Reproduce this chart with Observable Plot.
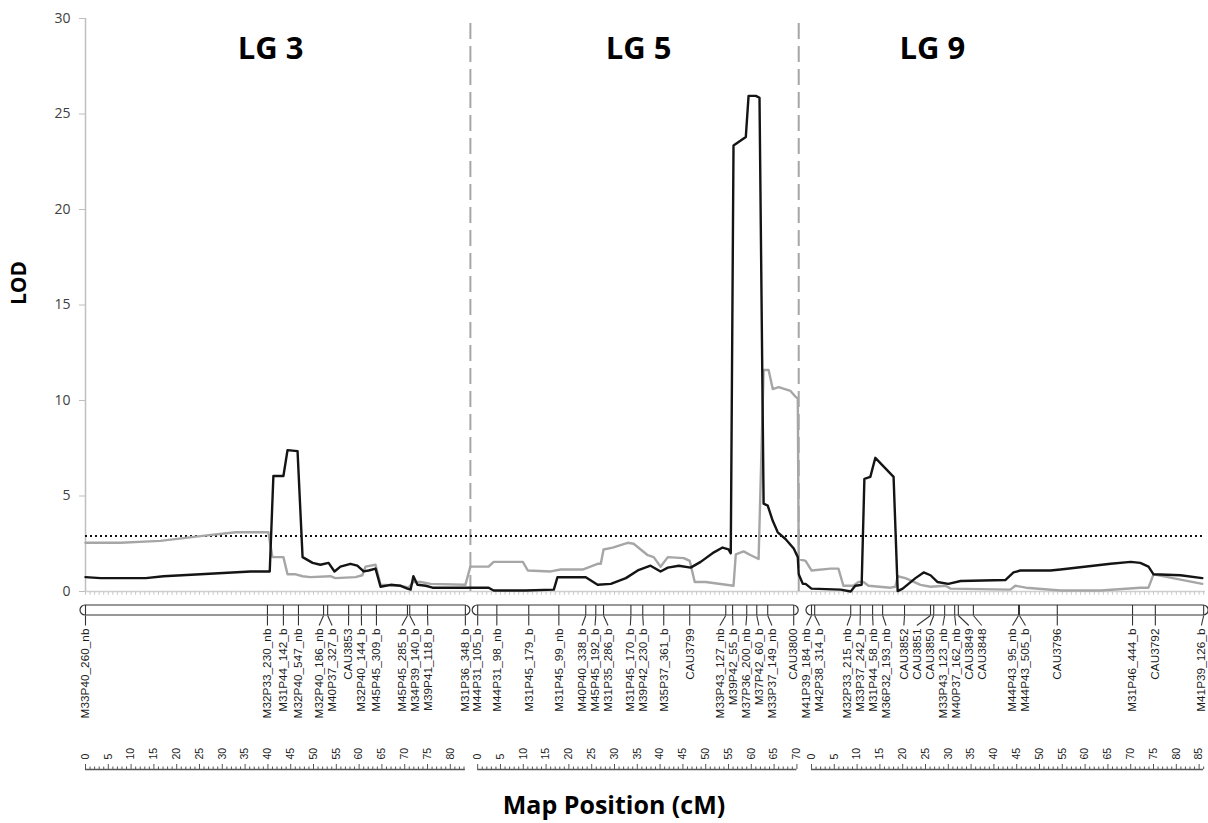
<!DOCTYPE html>
<html><head><meta charset="utf-8">
<script src="https://cdn.jsdelivr.net/npm/d3@7"></script>
<script src="https://cdn.jsdelivr.net/npm/@observablehq/plot@0.6"></script>
<style>
body{margin:0;background:#fff;}
#chart svg{display:block;}
#title{width:1228px;text-align:center;font:bold 25px 'Open Sans',sans-serif;color:#000;height:33px;line-height:28px;}
</style></head><body><div id="chart"></div><div id="title">Map Position (cM)</div>
<script>
// ---------------- DATA ----------------
const groupNames = ["LG 3", "LG 5", "LG 9"];
const groupLengthCM = [83.3, 69.3, 86.0];
const lodTicks = [0, 5, 10, 15, 20, 25, 30];
const lodThreshold = 2.9;

const lg3MarkerNames = ["M33P40_260_nb","M32P33_230_nb","M31P44_142_b","M32P40_547_nb","M32P40_186_nb","M40P37_327_b","CAU3853","M32P40_144_b","M45P45_309_b","M45P45_285_b","M34P39_140_b","M39P41_118_b","M31P36_348_b"];
const lg3MarkerCM = [0, 39.9, 43.4, 46.7, 52.2, 53.1, 57.7, 60.5, 63.8, 70.6, 71.1, 75.0, 83.3];

const lg5MarkerNames = ["M44P31_105_b","M44P31_98_nb","M31P45_179_b","M31P45_99_nb","M40P40_338_b","M45P45_192_b","M31P35_286_b","M31P45_170_b","M39P42_230_b","M35P37_361_b","CAU3799","M33P43_127_nb","M39P42_55_b","M37P36_200_nb","M37P42_60_b","M33P37_149_nb","CAU3800"];
const lg5MarkerCM = [0, 4.2, 11.2, 17.8, 23.7, 25.9, 27.6, 33.6, 36.2, 40.8, 46.5, 54.4, 55.9, 59.0, 61.2, 63.6, 69.3];

const lg9MarkerNames = ["M41P39_184_nb","M42P38_314_b","M32P33_215_nb","M33P37_242_b","M31P44_58_nb","M36P32_193_nb","CAU3852","CAU3851","CAU3850","M33P43_123_nb","M40P37_162_nb","CAU3849","CAU3848","M44P43_95_nb","M44P43_505_b","CAU3796","M31P46_444_b","CAU3792","M41P39_126_b"];
const lg9MarkerCM = [0, 0.7, 8.6, 10.7, 13.4, 15.6, 20.4, 26.1, 26.8, 29.2, 31.4, 32.2, 35.5, 45.4, 45.6, 53.9, 70.4, 75.4, 86.0];

// LOD profiles [cM within group, LOD]
const lg3TraitA = [[0,0.75],[3.3,0.7],[13.2,0.7],[17.1,0.8],[25.2,0.9],[36.2,1.05],[40.4,1.05],[41.2,6.05],[43.4,6.05],[44.3,7.4],[46.5,7.35],[47.6,1.8],[49.8,1.5],[51.5,1.4],[53.3,1.5],[54.6,1.05],[55.9,1.3],[58.1,1.45],[59.6,1.35],[61.0,1.05],[62.1,1.1],[63.6,1.2],[64.7,0.25],[66.9,0.35],[69.1,0.3],[70.6,0.15],[71.3,0.1],[71.9,0.8],[72.8,0.35],[74.6,0.3],[76.1,0.2],[83.3,0.2]];
const lg5TraitA = [[0,0.2],[2.4,0.2],[3.5,0.05],[10.5,0.05],[16.7,0.1],[17.5,0.75],[23.7,0.75],[26.3,0.35],[29.2,0.4],[32.5,0.7],[35.1,1.1],[37.9,1.35],[40.1,1.05],[41.7,1.25],[44.1,1.35],[46.7,1.25],[48.9,1.55],[51.8,2.05],[53.7,2.3],[55.0,2.2],[55.5,2.0],[56.1,23.35],[58.8,23.8],[59.4,25.95],[61.0,25.95],[61.8,25.85],[62.7,4.6],[63.6,4.5],[64.7,3.7],[65.8,3.1],[67.5,2.75],[69.3,2.25],[70.2,1.8],[70.4,0.9],[71.3,0.4],[71.9,0.4]];
const lg9TraitA = [[0,0.15],[6.4,0.1],[8.6,0.0],[9.6,0.3],[11.0,0.35],[11.6,5.9],[12.9,6.0],[14.0,7.0],[18.0,6.0],[18.9,0.02],[20.0,0.15],[22.8,0.7],[24.6,1.0],[26.1,0.85],[27.6,0.5],[30.0,0.4],[32.7,0.55],[42.5,0.6],[44.3,1.0],[45.8,1.1],[52.4,1.1],[54.6,1.15],[65.6,1.45],[70.0,1.55],[72.1,1.5],[73.9,1.3],[75.0,0.9],[80.9,0.85],[85.7,0.7]];

const lg3TraitB = [[0,2.55],[7.7,2.55],[16.4,2.65],[25.2,2.9],[32.9,3.1],[40.1,3.1],[41.0,1.8],[43.4,1.8],[44.3,0.9],[46.1,0.9],[47.6,0.8],[49.3,0.75],[53.7,0.8],[54.8,0.7],[59.2,0.75],[60.7,0.85],[61.4,1.3],[63.6,1.4],[64.7,0.35],[69.1,0.3],[70.8,0.2],[71.9,0.5],[73.5,0.5],[75.7,0.4],[83.3,0.35],[84.4,1.3]];
const lg5TraitB = [[0,1.3],[2.4,1.3],[3.5,1.55],[9.9,1.55],[11.0,1.1],[16.0,1.05],[18.2,1.15],[23.0,1.15],[26.3,1.45],[27.0,1.45],[27.6,2.2],[29.6,2.3],[32.9,2.55],[34.2,2.5],[37.3,1.9],[38.6,1.8],[40.1,1.3],[41.7,1.8],[45.2,1.75],[46.5,1.6],[47.6,0.5],[50.0,0.5],[56.1,0.3],[56.6,1.95],[58.3,2.1],[59.9,1.9],[61.6,1.7],[62.7,11.6],[63.8,11.6],[64.7,10.6],[66.0,10.7],[68.6,10.5],[69.7,10.2],[70.2,10.1],[70.4,1.7],[71.9,1.6]];
const lg9TraitB = [[0,1.1],[4.2,1.2],[5.9,1.2],[7.0,0.3],[9.2,0.3],[10.3,0.5],[11.4,0.5],[12.5,0.3],[17.3,0.2],[18.4,0.25],[18.9,0.8],[20.6,0.7],[23.9,0.35],[26.1,0.25],[29.4,0.3],[30.5,0.15],[43.6,0.1],[44.7,0.3],[47.0,0.2],[54.6,0.05],[63.4,0.05],[72.1,0.2],[73.9,0.2],[75.0,0.9],[85.7,0.4]];

const rulerLG3 = [0,5,10,15,20,25,30,35,40,45,50,55,60,65,70,75,80];
const rulerLG5 = [0,5,10,15,20,25,30,35,40,45,50,55,60,65,70];
const rulerLG9 = [0,5,10,15,20,25,30,35,40,45,50,55,60,65,70,75,80,85];

// ---------------- LAYOUT ----------------
const layout = {
  width: 1208, marginLeft: 85, marginRight: 3,
  groupOffset: [0, 86.0, 159.2], xMax: 245.6,
  titleAtCM: [40.6, 35.3, 26.5],
  barPad: 1.1, labelGap: 2.85, labelMaxInset: 0.9,
  font: "'Open Sans', sans-serif", labelFont: "'Liberation Sans', Arial, sans-serif"
};
const black = "#141414", gray = "#a6a6a6";

// ---------------- BUILD TABLES ----------------
const markerNames = [lg3MarkerNames, lg5MarkerNames, lg9MarkerNames];
const markerCM = [lg3MarkerCM, lg5MarkerCM, lg9MarkerCM];
const traitA = [lg3TraitA, lg5TraitA, lg9TraitA];
const traitB = [lg3TraitB, lg5TraitB, lg9TraitB];
const rulers = [rulerLG3, rulerLG5, rulerLG9];
const off = layout.groupOffset;

function dodge(pos, gap, maxPos) {
  const l = pos.slice();
  for (let it = 0; it < 2000; it++) {
    let moved = false;
    for (let i = 0; i < l.length - 1; i++) {
      const d = l[i + 1] - l[i];
      if (d < gap - 1e-6) { const s = (gap - d) / 2; l[i] -= s; l[i + 1] += s; moved = true; }
    }
    for (let i = 0; i < l.length; i++) if (l[i] > maxPos) { l[i] = maxPos; }
    if (!moved) break;
  }
  return l;
}

const groups = groupNames.map((name, g) => ({
  name, start: off[g], end: off[g] + groupLengthCM[g],
  rulerEnd: off[g] + Math.max(groupLengthCM[g], d3.max(rulers[g])),
  title: off[g] + layout.titleAtCM[g]
}));
const markers = markerNames.flatMap((names, g) => {
  const pos = markerCM[g].map(c => off[g] + c);
  const lpos = dodge(pos, layout.labelGap, layout.xMax - layout.labelMaxInset);
  return names.map((n, i) => ({name: n, pos: pos[i], lpos: lpos[i]}));
});
const toRows = parts => parts.flatMap((pts, g) => pts.map(([c, lod]) => ({x: off[g] + c, lod})));
const rowsA = toRows(traitA), rowsB = toRows(traitB);
const cmTicks = groups.flatMap((gr, g) => d3.range(0, Math.floor(gr.rulerEnd - gr.start + 1e-6) + 1).map(c => ({x: gr.start + c, major: c % 5 === 0})));
const rulerLabels = rulers.flatMap((r, g) => r.map(v => ({x: off[g] + v, text: String(v)})));
const separators = groups.slice(0, -1).map(gr => gr.end + layout.barPad);

// ---------------- PLOT A: LOD profile ----------------
const xScale = {domain: [0, layout.xMax], axis: null};
const plotA = Plot.plot({
  width: layout.width, height: 600,
  marginLeft: layout.marginLeft, marginRight: layout.marginRight, marginTop: 18, marginBottom: 9,
  style: {fontFamily: layout.font, background: "white", overflow: "visible"},
  x: xScale,
  y: {domain: [0, 30], axis: null},
  marks: [
    Plot.ruleY([0], {stroke: "#d0d0d0", strokeWidth: 1.5}),
    Plot.ruleX(cmTicks, {x: "x", y1: 0, y2: -0.2, stroke: "#c8c8c8"}),
    Plot.ruleX([0], {y1: 0, y2: 30, stroke: "#bfbfbf", strokeWidth: 1.5}),
    Plot.axisY({ticks: lodTicks, tickSize: 6, tickPadding: 9, fontSize: 14, stroke: "#bfbfbf", fill: "#404040", label: null}),
    Plot.ruleX(separators, {y1: 0, y2: 29.9, stroke: "#a6a6a6", strokeWidth: 2, strokeDasharray: "16,7"}),
    Plot.ruleY([lodThreshold], {stroke: "#111", strokeWidth: 2, strokeDasharray: "2,3"}),
    Plot.line(rowsB, {x: "x", y: "lod", stroke: gray, strokeWidth: 2.4}),
    Plot.line(rowsA, {x: "x", y: "lod", stroke: black, strokeWidth: 2.4}),
    Plot.text(groups, {x: "title", text: "name", frameAnchor: "top", dy: 18, fontSize: 31, fontWeight: "bold", fill: "#000"}),
    Plot.text(["LOD"], {frameAnchor: "left", dx: -66, rotate: -90, fontSize: 21, fontWeight: "bold", fill: "#000"})
  ]
});

// ---------------- PLOT B: linkage map + ruler ----------------
const plotB = Plot.plot({
  width: layout.width, height: 190,
  marginLeft: layout.marginLeft, marginRight: layout.marginRight, marginTop: 0, marginBottom: 0,
  style: {fontFamily: layout.labelFont, background: "white", overflow: "visible"},
  x: xScale,
  y: {domain: [0, 190], range: [0, 190], axis: null},
  marks: [
    Plot.rect(groups, {x1: d => d.start - layout.barPad, x2: d => d.end + layout.barPad, y1: 5, y2: 15, rx: 5, fill: "none", stroke: "#333", strokeWidth: 1.2}),
    Plot.ruleX(markers, {x: "pos", y1: 5, y2: 15, stroke: "#333", strokeWidth: 1.1}),
    Plot.link(markers, {x1: "pos", x2: "lpos", y1: 15, y2: 25, stroke: "#333", strokeWidth: 1.1}),
    Plot.text(markers, {x: "lpos", y: 28, text: "name", rotate: -90, textAnchor: "end", fontSize: 11.8, fill: "#1a1a1a"}),
    Plot.text(rulerLabels, {x: "x", y: 159, text: "text", rotate: -90, textAnchor: "start", fontSize: 10.5, fill: "#222"}),
    Plot.ruleY(groups, {y: 169, x1: "start", x2: "rulerEnd", stroke: "#555", strokeWidth: 1.3}),
    Plot.ruleX(cmTicks, {x: "x", y1: 169, y2: d => d.major ? 164 : 166.5, stroke: "#555"})
  ]
});

const chart = document.getElementById("chart");
chart.appendChild(plotA);
chart.appendChild(plotB);
</script></body></html>
